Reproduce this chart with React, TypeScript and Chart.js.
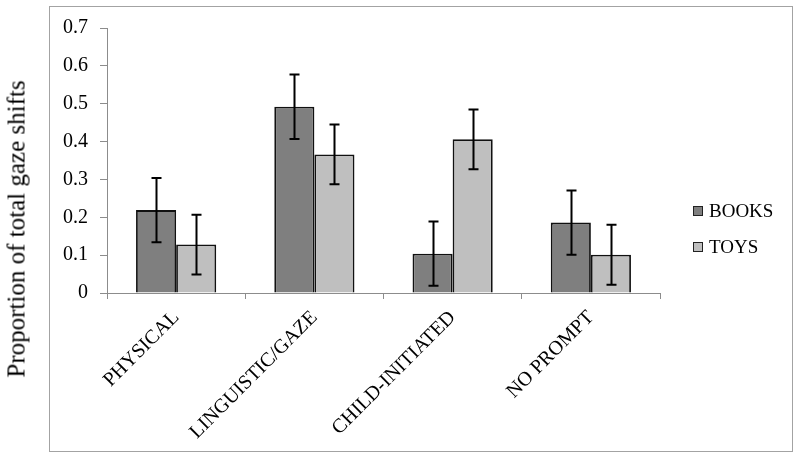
import React, { useEffect, useRef } from "react";
import { Chart, registerables } from "chart.js";

Chart.register(...registerables);

const categories = ["PHYSICAL", "LINGUISTIC/GAZE", "CHILD-INITIATED", "NO PROMPT"];
const seriesNames = ["BOOKS", "TOYS"];
const booksValues = [0.219, 0.492, 0.104, 0.186];
const toysValues = [0.128, 0.366, 0.406, 0.101];
const booksErrors = [0.085, 0.085, 0.085, 0.085];
const toysErrors = [0.079, 0.079, 0.079, 0.079];
const yTickLabels = ["0", "0.1", "0.2", "0.3", "0.4", "0.5", "0.6", "0.7"];
const yTitle = "Proportion of total gaze shifts";

const seriesColors = ["#7f7f7f", "#bfbfbf"];
const axisColor = "#8c8c8c";
const serif = "'Liberation Serif', 'Times New Roman', serif";

const errorBarsPlugin = {
  id: "errorBars",
  afterDatasetsDraw(chart: any) {
    const errs = [booksErrors, toysErrors];
    const vals = [booksValues, toysValues];
    const yScale = chart.scales.y;
    const ctx = chart.ctx;
    ctx.save();
    ctx.strokeStyle = "#000";
    ctx.lineWidth = 2;
    chart.data.datasets.forEach((_: any, di: number) => {
      const meta = chart.getDatasetMeta(di);
      meta.data.forEach((bar: any, i: number) => {
        const v = vals[di][i];
        const e = errs[di][i];
        const x = Math.round(bar.x) + 0.5;
        const yt = yScale.getPixelForValue(v + e);
        const yb = yScale.getPixelForValue(v - e);
        const cap = 5;
        ctx.beginPath();
        ctx.moveTo(x, yt);
        ctx.lineTo(x, yb);
        ctx.moveTo(x - cap, yt);
        ctx.lineTo(x + cap, yt);
        ctx.moveTo(x - cap, yb);
        ctx.lineTo(x + cap, yb);
        ctx.stroke();
      });
    });
    ctx.restore();
  },
};

export default function App() {
  const canvasRef = useRef<HTMLCanvasElement | null>(null);

  useEffect(() => {
    if (!canvasRef.current) return;
    const chart = new Chart(canvasRef.current, {
      type: "bar",
      data: {
        labels: categories,
        datasets: [
          {
            label: seriesNames[0],
            data: booksValues,
            backgroundColor: seriesColors[0],
            borderColor: "#111",
            borderWidth: 1.8,
            categoryPercentage: 0.58,
            barPercentage: 1.0,
          },
          {
            label: seriesNames[1],
            data: toysValues,
            backgroundColor: seriesColors[1],
            borderColor: "#111",
            borderWidth: 1.8,
            categoryPercentage: 0.58,
            barPercentage: 1.0,
          },
        ],
      },
      options: {
        responsive: false,
        animation: false,
        layout: { padding: { left: 49, right: 140, top: 28, bottom: 7 } },
        plugins: {
          legend: { display: false },
          tooltip: { enabled: false },
          title: { display: false },
        },
        scales: {
          x: {
            offset: true,
            grid: {
              offset: true,
              drawOnChartArea: false,
              drawTicks: true,
              tickLength: 6,
              color: axisColor,
            },
            border: { color: axisColor, width: 1 },
            ticks: {
              autoSkip: false,
              minRotation: 45,
              maxRotation: 45,
              padding: 7,
              color: "#000",
              font: { family: serif, size: 20 },
            },
            afterFit(scale: any) {
              scale.height = 159;
            },
          },
          y: {
            min: 0,
            max: 0.7,
            ticks: {
              stepSize: 0.1,
              padding: 12,
              color: "#000",
              font: { family: serif, size: 20 },
              callback: (_v: any, i: number) => yTickLabels[i],
            },
            grid: {
              drawOnChartArea: false,
              drawTicks: true,
              tickLength: 7,
              color: axisColor,
            },
            border: { color: axisColor, width: 1 },
            afterFit(scale: any) {
              scale.width = 58;
            },
          },
        },
      },
      plugins: [errorBarsPlugin],
    });
    return () => chart.destroy();
  }, []);

  const legendRow = (name: string, color: string, cy: number) => (
    <div
      key={name}
      style={{
        position: "absolute",
        left: 693,
        top: cy - 12,
        height: 24,
        display: "flex",
        alignItems: "center",
        fontFamily: serif,
        fontSize: 19,
        color: "#000",
        whiteSpace: "nowrap",
      }}
    >
      <span
        style={{
          display: "inline-block",
          width: 10,
          height: 10,
          boxSizing: "border-box",
          border: "1px solid #222",
          background: color,
          marginRight: 6,
        }}
      />
      <span>{name}</span>
    </div>
  );

  return (
    <div
      style={{
        position: "fixed",
        left: 0,
        top: 0,
        width: 800,
        height: 459,
        background: "#fff",
        overflow: "hidden",
      }}
    >
      <div
        style={{
          position: "absolute",
          left: 49,
          top: 6,
          width: 744,
          height: 446,
          boxSizing: "border-box",
          border: "1px solid #a3a3a3",
        }}
      />
      <canvas
        ref={canvasRef}
        width={800}
        height={459}
        style={{ position: "absolute", left: 0, top: 0 }}
      />
      <div
        style={{
          position: "absolute",
          left: 16,
          top: 229,
          transform: "translate(-50%, -50%) rotate(-90deg)",
          fontFamily: serif,
          fontSize: 25,
          color: "#000",
          whiteSpace: "nowrap",
          lineHeight: 1,
        }}
      >
        {yTitle}
      </div>
      {legendRow(seriesNames[0], seriesColors[0], 211)}
      {legendRow(seriesNames[1], seriesColors[1], 247)}
    </div>
  );
}
